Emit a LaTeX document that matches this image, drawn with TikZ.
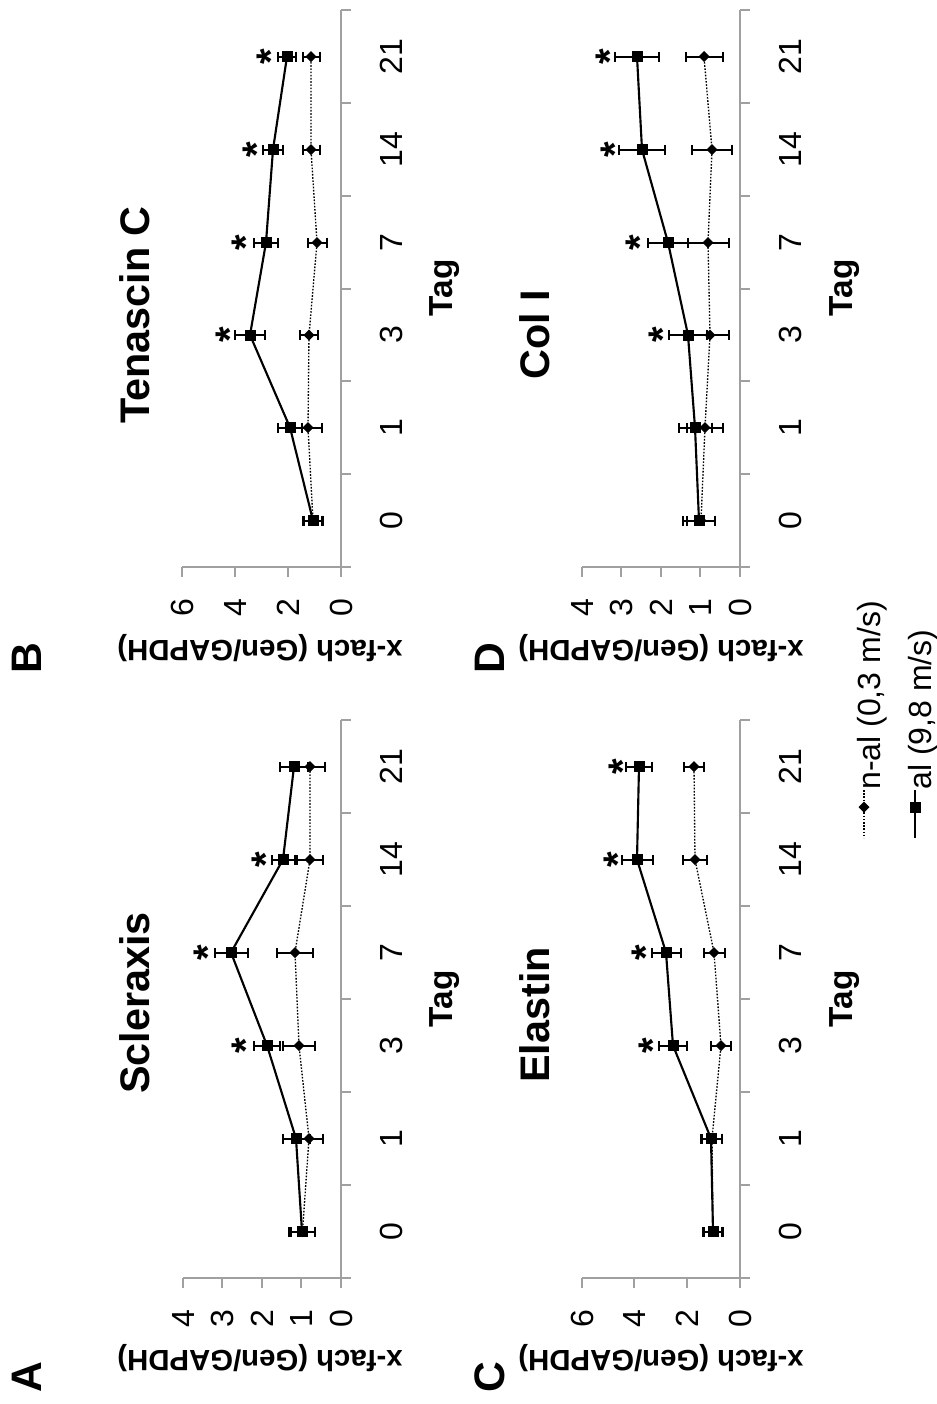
\documentclass[tikz,border=0pt]{standalone}
\usepackage{fontspec}
\setmainfont{Liberation Sans}
\usetikzlibrary{arrows.meta}

\tikzset{
  axisline/.style={color={rgb, 255:red, 160; green, 160; blue, 160}, line width=1.5},
  alline/.style={line width=1.6},
  nalline/.style={line width=1, dash pattern=on 1.2pt off 1.2pt},
  errbar/.style={line width=1.5, {Bar[width=7.5pt]}-{Bar[width=7.5pt]}},
  sqmark/.pic={\fill (-5.5,-5.5) rectangle (5.5,5.5);},
  diamark/.pic={\fill (-5.5,0) -- (0,-5.5) -- (5.5,0) -- (0,5.5) -- cycle;},
  ticklab/.style={font=\fontsize{24}{28}\selectfont, rotate=90, inner sep=0pt},
  axtitle/.style={font=\bfseries\fontsize{22}{26}\selectfont, rotate=180, inner sep=0pt},
  taglab/.style={font=\bfseries\fontsize{25}{30}\selectfont, rotate=90, inner sep=0pt},
  ptitle/.style={font=\bfseries\fontsize{31}{36}\selectfont, rotate=90, inner sep=0pt},
  plabel/.style={font=\bfseries\fontsize{32}{38}\selectfont, rotate=90, inner sep=0pt},
  star/.style={font=\bfseries\fontsize{30}{36}\selectfont, rotate=90, inner sep=0pt},
  legtext/.style={font=\fontsize{24}{28}\selectfont, rotate=90, inner sep=0pt, anchor=west}
}

\begin{document}
\begin{tikzpicture}[x=0.75pt,y=0.75pt,yscale=-1,xscale=1]
\useasboundingbox (0,0) rectangle (937,1404);
\fill[white] (0,0) rectangle (937,1404);

%Axes panel A
\draw[axisline] (341,720) -- (341,1288) (183,1278) -- (351,1278)
  (341,720) -- (351,720) (341,813) -- (351,813) (341,906) -- (351,906) (341,999) -- (351,999) (341,1092) -- (351,1092) (341,1185) -- (351,1185)
  (183,1278) -- (183,1288) (222,1278) -- (222,1288) (262,1278) -- (262,1288) (301,1278) -- (301,1288) ;
%Axes panel B
\draw[axisline] (341,10) -- (341,577) (182,567) -- (351,567)
  (341,10) -- (351,10) (341,103) -- (351,103) (341,196) -- (351,196) (341,289) -- (351,289) (341,381) -- (351,381) (341,474) -- (351,474)
  (182,567) -- (182,577) (235,567) -- (235,577) (288,567) -- (288,577) ;
%Axes panel D
\draw[axisline] (740,10) -- (740,577) (582,567) -- (750,567)
  (740,10) -- (750,10) (740,103) -- (750,103) (740,196) -- (750,196) (740,289) -- (750,289) (740,381) -- (750,381) (740,474) -- (750,474)
  (582,567) -- (582,577) (621,567) -- (621,577) (661,567) -- (661,577) (700,567) -- (700,577) ;
%Axes panel C
\draw[axisline] (740,720) -- (740,1288) (582,1278) -- (750,1278)
  (740,720) -- (750,720) (740,813) -- (750,813) (740,906) -- (750,906) (740,999) -- (750,999) (740,1092) -- (750,1092) (740,1185) -- (750,1185)
  (582,1278) -- (582,1288) (634,1278) -- (634,1288) (687,1278) -- (687,1288) ;

%Scleraxis n-al
\draw[nalline] (302.5,1231.5) -- (309,1138.5) -- (299,1045.5) -- (295,952.5) -- (310,859.5) -- (310,766.5) ;
\draw[errbar] (289.5,1231.5) -- (315.5,1231.5); \pic at (302.5,1231.5) {diamark};
\draw[errbar] (294,1138.5) -- (324,1138.5); \pic at (309,1138.5) {diamark};
\draw[errbar] (282,1045.5) -- (316,1045.5); \pic at (299,1045.5) {diamark};
\draw[errbar] (276,952.5) -- (314,952.5); \pic at (295,952.5) {diamark};
\draw[errbar] (296,859.5) -- (324,859.5); \pic at (310,859.5) {diamark};
\draw[errbar] (294.5,766.5) -- (325.5,766.5); \pic at (310,766.5) {diamark};
%Scleraxis al
\draw[alline] (302,1231.5) -- (296,1138.5) -- (267,1045.5) -- (231,952.5) -- (283,859.5) -- (294,766.5) ;
\draw[errbar] (288,1231.5) -- (316,1231.5); \pic at (302,1231.5) {sqmark};
\draw[errbar] (281.5,1138.5) -- (310.5,1138.5); \pic at (296,1138.5) {sqmark};
\draw[errbar] (253,1045.5) -- (281,1045.5); \pic at (267,1045.5) {sqmark};
\draw[errbar] (213.5,952.5) -- (248.5,952.5); \pic at (231,952.5) {sqmark};
\draw[errbar] (270.5,859.5) -- (295.5,859.5); \pic at (283,859.5) {sqmark};
\draw[errbar] (279,766.5) -- (309,766.5); \pic at (294,766.5) {sqmark};

%Tenascin C n-al
\draw[nalline] (313,520.5) -- (308,427.5) -- (309,335) -- (317,242.5) -- (311,149.5) -- (311,56.5) ;
\draw[errbar] (303,520.5) -- (323,520.5); \pic at (313,520.5) {diamark};
\draw[errbar] (293.5,427.5) -- (322.5,427.5); \pic at (308,427.5) {diamark};
\draw[errbar] (299,335) -- (319,335); \pic at (309,335) {diamark};
\draw[errbar] (306.5,242.5) -- (327.5,242.5); \pic at (317,242.5) {diamark};
\draw[errbar] (301.5,149.5) -- (320.5,149.5); \pic at (311,149.5) {diamark};
\draw[errbar] (301.5,56.5) -- (320.5,56.5); \pic at (311,56.5) {diamark};
%Tenascin C al
\draw[alline] (313,520.5) -- (290,427.5) -- (250,335) -- (266,242.5) -- (273,149.5) -- (287,56.5) ;
\draw[errbar] (302,520.5) -- (324,520.5); \pic at (313,520.5) {sqmark};
\draw[errbar] (277,427.5) -- (303,427.5); \pic at (290,427.5) {sqmark};
\draw[errbar] (234,335) -- (266,335); \pic at (250,335) {sqmark};
\draw[errbar] (253,242.5) -- (279,242.5); \pic at (266,242.5) {sqmark};
\draw[errbar] (262,149.5) -- (284,149.5); \pic at (273,149.5) {sqmark};
\draw[errbar] (277,56.5) -- (297,56.5); \pic at (287,56.5) {sqmark};

%Col I n-al
\draw[nalline] (701,520.5) -- (705,427.5) -- (710,335) -- (708,242.5) -- (712,149.5) -- (704,56.5) ;
\draw[errbar] (686,520.5) -- (716,520.5); \pic at (701,520.5) {diamark};
\draw[errbar] (686,427.5) -- (724,427.5); \pic at (705,427.5) {diamark};
\draw[errbar] (690.5,335) -- (729.5,335); \pic at (710,335) {diamark};
\draw[errbar] (686.5,242.5) -- (729.5,242.5); \pic at (708,242.5) {diamark};
\draw[errbar] (691,149.5) -- (733,149.5); \pic at (712,149.5) {diamark};
\draw[errbar] (684.5,56.5) -- (723.5,56.5); \pic at (704,56.5) {diamark};
%Col I al
\draw[alline] (699,520.5) -- (695,427.5) -- (688,335) -- (668,242.5) -- (642,149.5) -- (637,56.5) ;
\draw[errbar] (682,520.5) -- (716,520.5); \pic at (699,520.5) {sqmark};
\draw[errbar] (677.5,427.5) -- (712.5,427.5); \pic at (695,427.5) {sqmark};
\draw[errbar] (668,335) -- (708,335); \pic at (688,335) {sqmark};
\draw[errbar] (647,242.5) -- (689,242.5); \pic at (668,242.5) {sqmark};
\draw[errbar] (618,149.5) -- (666,149.5); \pic at (642,149.5) {sqmark};
\draw[errbar] (614,56.5) -- (660,56.5); \pic at (637,56.5) {sqmark};

%Elastin n-al
\draw[nalline] (713,1231.5) -- (712,1138.5) -- (721,1045.5) -- (714,952.5) -- (695,859.5) -- (694,766.5) ;
\draw[errbar] (703,1231.5) -- (723,1231.5); \pic at (713,1231.5) {diamark};
\draw[errbar] (701,1138.5) -- (723,1138.5); \pic at (712,1138.5) {diamark};
\draw[errbar] (710,1045.5) -- (732,1045.5); \pic at (721,1045.5) {diamark};
\draw[errbar] (702.5,952.5) -- (725.5,952.5); \pic at (714,952.5) {diamark};
\draw[errbar] (682,859.5) -- (708,859.5); \pic at (695,859.5) {diamark};
\draw[errbar] (683,766.5) -- (705,766.5); \pic at (694,766.5) {diamark};
%Elastin al
\draw[alline] (713,1231.5) -- (711,1138.5) -- (673,1045.5) -- (666,952.5) -- (637,859.5) -- (639,766.5) ;
\draw[errbar] (702,1231.5) -- (724,1231.5); \pic at (713,1231.5) {sqmark};
\draw[errbar] (699.5,1138.5) -- (722.5,1138.5); \pic at (711,1138.5) {sqmark};
\draw[errbar] (658,1045.5) -- (688,1045.5); \pic at (673,1045.5) {sqmark};
\draw[errbar] (650.5,952.5) -- (681.5,952.5); \pic at (666,952.5) {sqmark};
\draw[errbar] (620.5,859.5) -- (653.5,859.5); \pic at (637,859.5) {sqmark};
\draw[errbar] (625,766.5) -- (653,766.5); \pic at (639,766.5) {sqmark};

% Text Node
\node[star] (sA3) at (246,1045.5) {*};
\node[star] (sA7) at (208,952.5) {*};
\node[star] (sA14) at (266,859.5) {*};
\node[star] (sB3) at (230,335) {*};
\node[star] (sB7) at (246,242.5) {*};
\node[star] (sB14) at (257,149.5) {*};
\node[star] (sB21) at (271,56.5) {*};
\node[star] (sD3) at (663,335) {*};
\node[star] (sD7) at (640,242.5) {*};
\node[star] (sD14) at (615,149.5) {*};
\node[star] (sD21) at (610,56.5) {*};
\node[star] (sC3) at (653,1045.5) {*};
\node[star] (sC7) at (646,952.5) {*};
\node[star] (sC14) at (618,859.5) {*};
\node[star] (sC21) at (623,766.5) {*};

% Text Node
\node[ticklab] (vA0) at (341,1319) {0};
\node[ticklab] (vA1) at (301,1319) {1};
\node[ticklab] (vA2) at (262,1319) {2};
\node[ticklab] (vA3) at (222,1319) {3};
\node[ticklab] (vA4) at (183,1319) {4};
\node[ticklab] (vB0) at (341,608) {0};
\node[ticklab] (vB2) at (288,608) {2};
\node[ticklab] (vB4) at (235,608) {4};
\node[ticklab] (vB6) at (182,608) {6};
\node[ticklab] (vD0) at (740,608) {0};
\node[ticklab] (vD1) at (700,608) {1};
\node[ticklab] (vD2) at (661,608) {2};
\node[ticklab] (vD3) at (621,608) {3};
\node[ticklab] (vD4) at (582,608) {4};
\node[ticklab] (vC0) at (740,1319) {0};
\node[ticklab] (vC2) at (687,1319) {2};
\node[ticklab] (vC4) at (634,1319) {4};
\node[ticklab] (vC6) at (582,1319) {6};

% Text Node
\node[ticklab] (dA0) at (391,1231.5) {0};
\node[ticklab] (dA1) at (391,1138.5) {1};
\node[ticklab] (dA3) at (391,1045.5) {3};
\node[ticklab] (dA7) at (391,952.5) {7};
\node[ticklab] (dA14) at (391,859.5) {14};
\node[ticklab] (dA21) at (391,766.5) {21};
\node[ticklab] (dB0) at (391,520.5) {0};
\node[ticklab] (dB1) at (391,427.5) {1};
\node[ticklab] (dB3) at (391,335) {3};
\node[ticklab] (dB7) at (391,242.5) {7};
\node[ticklab] (dB14) at (391,149.5) {14};
\node[ticklab] (dB21) at (391,56.5) {21};
\node[ticklab] (dD0) at (790,520.5) {0};
\node[ticklab] (dD1) at (790,427.5) {1};
\node[ticklab] (dD3) at (790,335) {3};
\node[ticklab] (dD7) at (790,242.5) {7};
\node[ticklab] (dD14) at (790,149.5) {14};
\node[ticklab] (dD21) at (790,56.5) {21};
\node[ticklab] (dC0) at (790,1231.5) {0};
\node[ticklab] (dC1) at (790,1138.5) {1};
\node[ticklab] (dC3) at (790,1045.5) {3};
\node[ticklab] (dC7) at (790,952.5) {7};
\node[ticklab] (dC14) at (790,859.5) {14};
\node[ticklab] (dC21) at (790,766.5) {21};

% Text Node
\node[taglab] (tagA) at (445,999) {Tag};
\node[taglab] (tagB) at (445,288) {Tag};
\node[taglab] (tagD) at (845,288) {Tag};
\node[taglab] (tagC) at (845,999) {Tag};
\node[axtitle] (yA) at (260,1358) {x-fach (Gen/GAPDH)};
\node[axtitle] (yB) at (260,648) {x-fach (Gen/GAPDH)};
\node[axtitle] (yD) at (661,648) {x-fach (Gen/GAPDH)};
\node[axtitle] (yC) at (661,1358) {x-fach (Gen/GAPDH)};
\node[ptitle] (tA) at (135,1003) {Scleraxis};
\node[ptitle] (tB) at (135,315) {Tenascin C};
\node[ptitle] (tD) at (535,335) {Col I};
\node[ptitle] (tC) at (535,1015) {Elastin};
\node[plabel] (lA) at (27,1377) {A};
\node[plabel] (lB) at (27,658) {B};
\node[plabel] (lD) at (490,658) {D};
\node[plabel] (lC) at (490,1377) {C};

%Legend
\draw[nalline] (864,790) -- (864,838) ; \pic at (864,807) {diamark};
\draw[alline] (915,790) -- (915,838) ; \fill (909.5,801.5) rectangle (920.5,812.5);
\node[legtext] (legnal) at (872,790) {n-al (0,3 m/s)};
\node[legtext] (legal) at (923,790) {al (9,8 m/s)};

\end{tikzpicture}
\end{document}
